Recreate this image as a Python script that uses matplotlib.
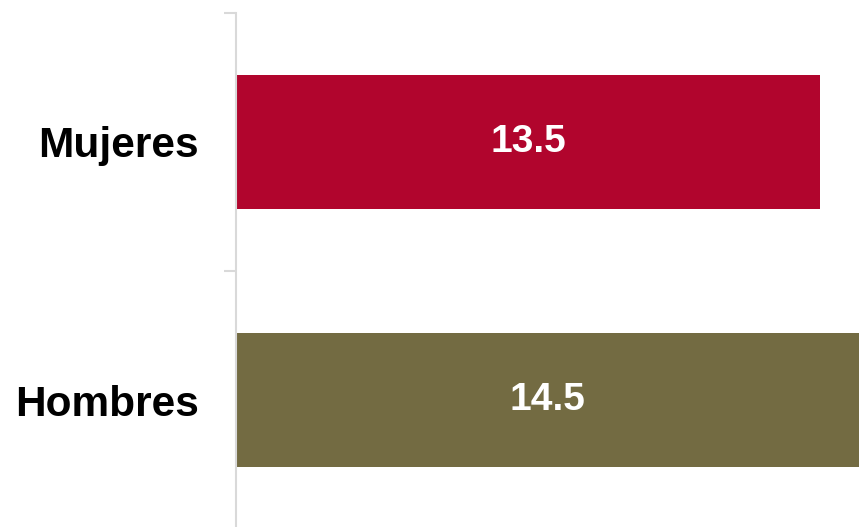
import matplotlib
matplotlib.use("Agg")
import matplotlib.pyplot as plt

categories = ["Hombres", "Mujeres"]
values = [14.5, 13.5]
colors = ["#736B42", "#B1052D"]
xmax = 14.4

fig = plt.figure(figsize=(8.59, 5.27), dpi=100)
ax = fig.add_axes([236/859, -2/527, 1 - 236/859, 516/527])

ypos = list(range(len(categories)))
ax.barh(ypos, values, height=0.516, color=colors, zorder=2)
ax.set_xlim(0, xmax)
ax.set_ylim(-0.5, len(categories) - 0.5)

for y, v in zip(ypos, values):
    ax.text(min(v, xmax) / 2, y, f"{v:.1f}", ha="center", va="center",
            color="white", fontsize=28, fontweight="bold",
            family="Liberation Sans", zorder=3)

ax.set_yticks(ypos)
ax.set_yticklabels(categories, fontsize=30.5, fontweight="bold", family="Liberation Sans")
ax.tick_params(axis="y", which="major", length=0, pad=27)
ax.set_yticks([-0.5, 0.5, 1.5], minor=True)
ax.tick_params(axis="y", which="minor", length=9, width=1.5, color="#d9d9d9")
ax.set_xticks([])

for s in ["top", "right", "bottom"]:
    ax.spines[s].set_visible(False)
ax.spines["left"].set_color("#d9d9d9")
ax.spines["left"].set_linewidth(1.5)

fig.savefig("out.png", dpi=100)
